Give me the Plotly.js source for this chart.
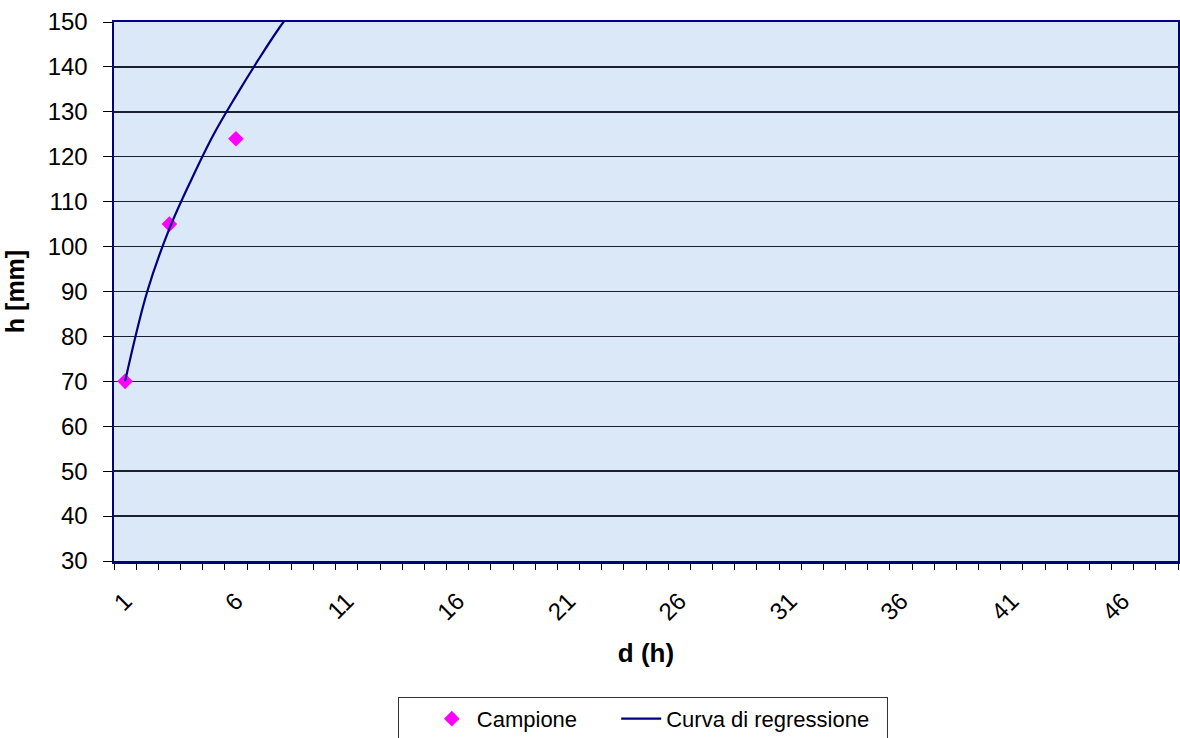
<!DOCTYPE html>
<html>
<head>
<meta charset="utf-8">
<script src="https://cdn.plot.ly/plotly-3.0.1.min.js"></script>
<style>
  html, body { margin: 0; padding: 0; background: #ffffff; }
  #chart { width: 1180px; height: 738px; }
</style>
</head>
<body>
<div id="chart"></div>
<script>
// Sample points (Campione)
const sampleD = [1, 3, 6];
const sampleH = [70, 105, 124];

// Regression curve values (Curva di regressione)
const curveD = [1, 2, 3, 4, 5, 6, 7, 8, 9, 10];
const curveH = [70, 90, 104, 115, 125, 133.5, 141.5, 149, 155.5, 162];

// Category axis labels
const xTickVals = [1, 6, 11, 16, 21, 26, 31, 36, 41, 46];
const xTickText = ['1', '6', '11', '16', '21', '26', '31', '36', '41', '46'];

const FONT = '"Liberation Sans", Arial, Helvetica, sans-serif';
const NB = '\u00a0';

const traces = [
  {
    x: sampleD, y: sampleH,
    type: 'scatter', mode: 'markers',
    name: 'Campione' + NB.repeat(1),
    marker: { symbol: 'diamond', color: '#ff00ff', size: 12, line: { width: 0 } },
    cliponaxis: true
  },
  {
    x: curveD, y: curveH,
    type: 'scatter', mode: 'lines',
    name: 'Curva di regressione' + NB.repeat(2),
    line: { color: '#000080', width: 2.2, shape: 'spline', smoothing: 1 }
  }
];

const layout = {
  width: 1180, height: 738,
  margin: { l: 114, r: 2, t: 22, b: 177, autoexpand: false },
  paper_bgcolor: '#ffffff',
  plot_bgcolor: '#dae8f7',
  font: { family: FONT, size: 22, color: '#000000' },
  showlegend: true,
  legend: {
    orientation: 'h',
    x: 0.497, xanchor: 'center',
    y: -0.252, yanchor: 'top',
    bgcolor: '#ffffff',
    bordercolor: '#333333', borderwidth: 1,
    itemwidth: 40,
    indentation: 28,
    font: { family: FONT, size: 22, color: '#000000' },
    traceorder: 'normal'
  },
  xaxis: {
    automargin: false,
    range: [0.5, 48.5],
    tickmode: 'array', tickvals: xTickVals, ticktext: xTickText,
    tickangle: -45,
    ticks: '', ticklabelstandoff: 14,
    tickfont: { family: FONT, size: 24, color: '#000000' },
    minor: { tickmode: 'linear', tick0: 0.5, dtick: 1, ticks: 'outside', ticklen: 6, tickcolor: '#000000', tickwidth: 1, showgrid: false },
    showgrid: false, zeroline: false,
    showline: true, linecolor: '#000080', linewidth: 2.5, mirror: true,
    title: { text: '<b>d (h)</b>', font: { family: FONT, size: 26, color: '#000000' }, standoff: 20 }
  },
  yaxis: {
    automargin: false,
    range: [30, 150],
    tick0: 30, dtick: 10,
    ticks: 'outside', ticklen: 9, tickcolor: '#000000', tickwidth: 1,
    ticklabelstandoff: 10,
    tickfont: { family: FONT, size: 24, color: '#000000' },
    showgrid: true, gridcolor: '#1c1f2e', gridwidth: 1.4,
    zeroline: false,
    showline: true, linecolor: '#000080', linewidth: 2.5, mirror: true,
    title: { text: '<b>h [mm]</b>', font: { family: FONT, size: 25, color: '#000000' }, standoff: 16 }
  }
};

Plotly.newPlot('chart', traces, layout, { displayModeBar: false, staticPlot: true });
</script>
</body>
</html>
